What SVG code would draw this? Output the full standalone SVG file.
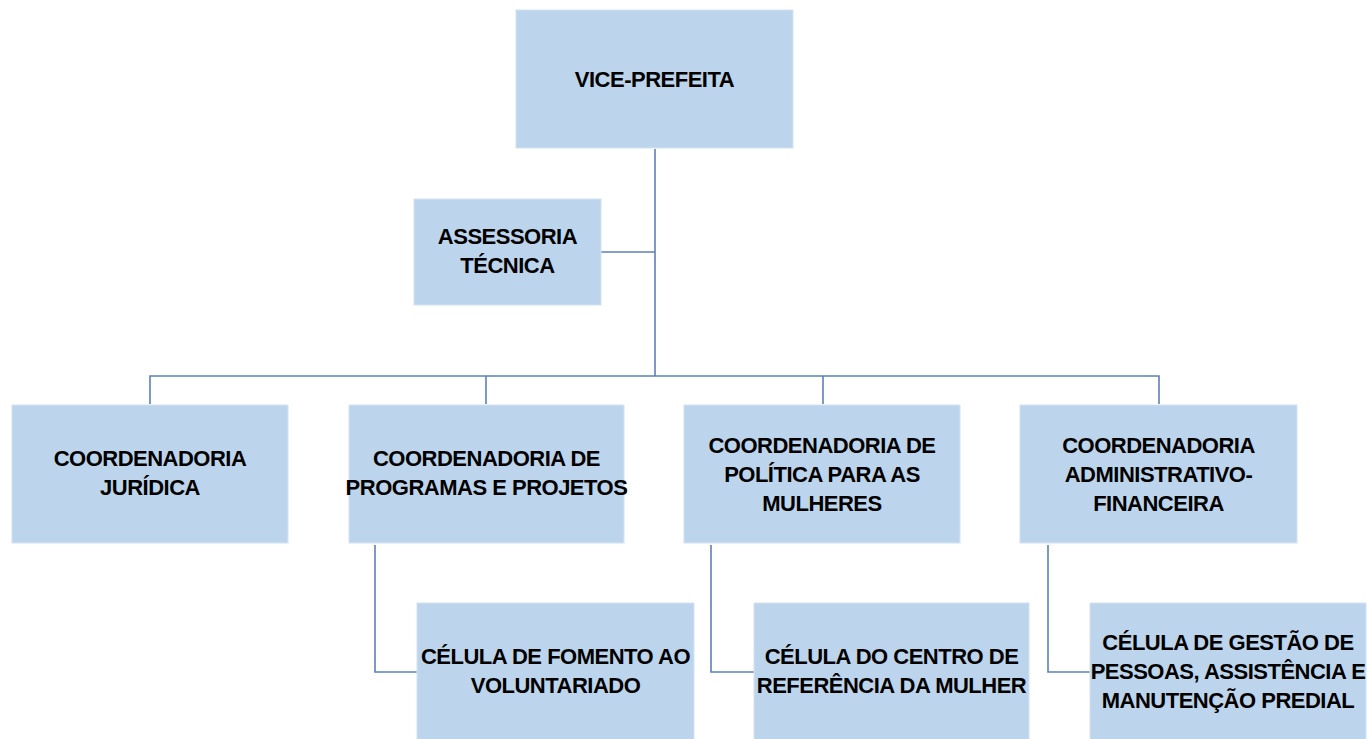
<svg xmlns="http://www.w3.org/2000/svg" width="1367" height="739" viewBox="0 0 1367 739">
<style>
.box{fill:#BDD5EC;stroke:#D3E2F2;stroke-width:1}
.lbl{font-family:"Liberation Sans",Arial,sans-serif;font-weight:bold;font-size:22px;letter-spacing:-0.5px;fill:#000;text-anchor:middle}
.con{fill:none;stroke:#5A82B8;stroke-width:1.6}
</style>
<rect width="1367" height="739" fill="#fff"/>
<g id="connectors">
<path class="con" d="M655 149V376"/>
<path class="con" d="M601 252H655"/>
<path class="con" d="M150 404V376H1159V404"/>
<path class="con" d="M486 376V404"/>
<path class="con" d="M823 376V404"/>
<path class="con" d="M375 545V672H417"/>
<path class="con" d="M711 545V672H754"/>
<path class="con" d="M1048 545V672H1090"/>
</g>
<g id="vice-prefeita"><rect class="box" x="516" y="10" width="277" height="138"/><text class="lbl" x="654.5" y="87">VICE-PREFEITA</text></g>
<g id="assessoria"><rect class="box" x="414" y="199" width="187" height="106"/><text class="lbl" x="507.5" y="244">ASSESSORIA</text><text class="lbl" x="507.5" y="273">TÉCNICA</text></g>
<g id="coord-juridica"><rect class="box" x="12" y="405" width="276" height="138"/><text class="lbl" x="150" y="466">COORDENADORIA</text><text class="lbl" x="150" y="495">JURÍDICA</text></g>
<g id="coord-programas"><rect class="box" x="349" y="405" width="275" height="138"/><text class="lbl" x="486.5" y="466">COORDENADORIA DE</text><text class="lbl" x="486.5" y="495">PROGRAMAS E PROJETOS</text></g>
<g id="coord-politica"><rect class="box" x="684" y="405" width="276" height="138"/><text class="lbl" x="822" y="453">COORDENADORIA DE</text><text class="lbl" x="822" y="482">POLÍTICA PARA AS</text><text class="lbl" x="822" y="511">MULHERES</text></g>
<g id="coord-admin"><rect class="box" x="1020" y="405" width="277" height="138"/><text class="lbl" x="1158.5" y="453">COORDENADORIA</text><text class="lbl" x="1158.5" y="482">ADMINISTRATIVO-</text><text class="lbl" x="1158.5" y="511">FINANCEIRA</text></g>
<g id="celula-fomento"><rect class="box" x="417" y="603" width="277" height="140"/><text class="lbl" x="555.5" y="664">CÉLULA DE FOMENTO AO</text><text class="lbl" x="555.5" y="693">VOLUNTARIADO</text></g>
<g id="celula-centro"><rect class="box" x="754" y="603" width="275" height="140"/><text class="lbl" x="891.5" y="664">CÉLULA DO CENTRO DE</text><text class="lbl" x="891.5" y="693">REFERÊNCIA DA MULHER</text></g>
<g id="celula-gestao"><rect class="box" x="1090" y="603" width="276" height="140"/><text class="lbl" x="1228" y="650">CÉLULA DE GESTÃO DE</text><text class="lbl" x="1228" y="679">PESSOAS, ASSISTÊNCIA E</text><text class="lbl" x="1228" y="708">MANUTENÇÃO PREDIAL</text></g>
</svg>
